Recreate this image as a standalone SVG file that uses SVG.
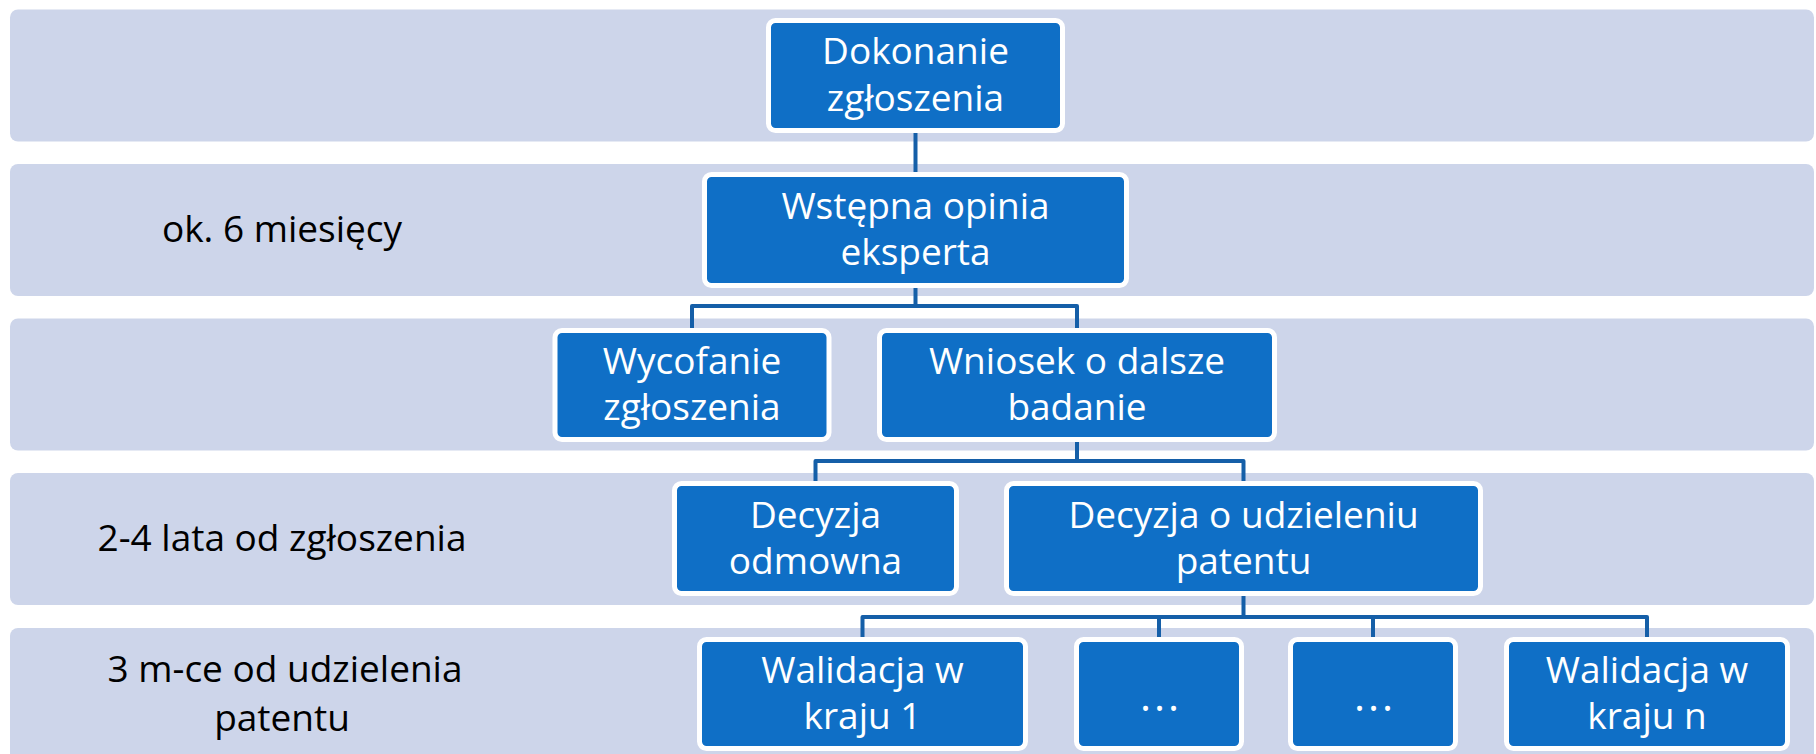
<svg xmlns="http://www.w3.org/2000/svg" width="1816" height="754" viewBox="0 0 1816 754">
<style>
.band{fill:#CDD5EA}
.node{fill:#0F6FC6;stroke:#FFFFFF;stroke-width:5}
.nt{font-family:"Open Sans","Liberation Sans",sans-serif;font-size:37px;fill:#FFFFFF;text-anchor:middle}
.dots{font-family:"Open Sans","Liberation Sans",sans-serif;font-size:42px;fill:#FFFFFF;text-anchor:middle;letter-spacing:3px}
.lbl{font-family:"Open Sans","Liberation Sans",sans-serif;font-size:37px;fill:#000000;text-anchor:middle}
.conn{fill:none;stroke:#155FA8;stroke-width:4;stroke-linejoin:round}
</style>
<rect width="1816" height="754" fill="#FFFFFF"/>
<g id="bands">
<rect class="band" x="10" y="9.5" width="1804" height="132" rx="8"/>
<rect class="band" x="10" y="164" width="1804" height="132" rx="8"/>
<rect class="band" x="10" y="318.5" width="1804" height="132" rx="8"/>
<rect class="band" x="10" y="473" width="1804" height="132" rx="8"/>
<rect class="band" x="10" y="628" width="1804" height="140" rx="8"/>
</g>
<g id="labels">
<text class="lbl" x="282" y="242">ok. 6 miesięcy</text>
<text class="lbl" x="282" y="551">2-4 lata od zgłoszenia</text>
<text class="lbl" x="285" y="682">3 m-ce od udzielenia</text>
<text class="lbl" x="282" y="730.5">patentu</text>
</g>
<g id="connectors">
<path class="conn" d="M915.5 128 V180"/>
<path class="conn" d="M915.5 283 V306 M692 335 V306 H1077 V335"/>
<path class="conn" d="M1077 437 V461 M815.5 488 V461 H1243.5 V488"/>
<path class="conn" d="M1243.5 591 V617 M862.5 644 V617 H1647 V644 M1159 644 V617 M1373 644 V617"/>
</g>
<g id="n1">
<rect class="node" x="768.5" y="20.5" width="294" height="110" rx="7"/>
<text class="nt" x="915.5" y="64">Dokonanie</text>
<text class="nt" x="915.5" y="110.5">zgłoszenia</text>
</g>
<g id="n2">
<rect class="node" x="704.5" y="174.5" width="422" height="111" rx="7"/>
<text class="nt" x="915.5" y="218.5">Wstępna opinia</text>
<text class="nt" x="915.5" y="265">eksperta</text>
</g>
<g id="n3">
<rect class="node" x="555" y="330.5" width="274" height="109" rx="7"/>
<text class="nt" x="692" y="373.5">Wycofanie</text>
<text class="nt" x="692" y="420">zgłoszenia</text>
</g>
<g id="n4">
<rect class="node" x="879.5" y="330.5" width="395" height="109" rx="7"/>
<text class="nt" x="1077" y="373.5">Wniosek o dalsze</text>
<text class="nt" x="1077" y="420">badanie</text>
</g>
<g id="n5">
<rect class="node" x="674.5" y="483.5" width="282" height="110" rx="7"/>
<text class="nt" x="815.5" y="527.5">Decyzja</text>
<text class="nt" x="815.5" y="574">odmowna</text>
</g>
<g id="n6">
<rect class="node" x="1006.5" y="483.5" width="474" height="110" rx="7"/>
<text class="nt" x="1243.5" y="527.5">Decyzja o udzieleniu</text>
<text class="nt" x="1243.5" y="574">patentu</text>
</g>
<g id="n7">
<rect class="node" x="699.5" y="639.5" width="326" height="109" rx="7"/>
<text class="nt" x="862.5" y="682.5">Walidacja w</text>
<text class="nt" x="862.5" y="729">kraju 1</text>
</g>
<g id="n8">
<rect class="node" x="1076.5" y="639.5" width="165" height="109" rx="7"/>
<text class="dots" x="1161" y="711">...</text>
</g>
<g id="n9">
<rect class="node" x="1290.5" y="639.5" width="165" height="109" rx="7"/>
<text class="dots" x="1375" y="711">...</text>
</g>
<g id="n10">
<rect class="node" x="1506.5" y="639.5" width="281" height="109" rx="7"/>
<text class="nt" x="1647" y="682.5">Walidacja w</text>
<text class="nt" x="1647" y="729">kraju n</text>
</g>
</svg>
